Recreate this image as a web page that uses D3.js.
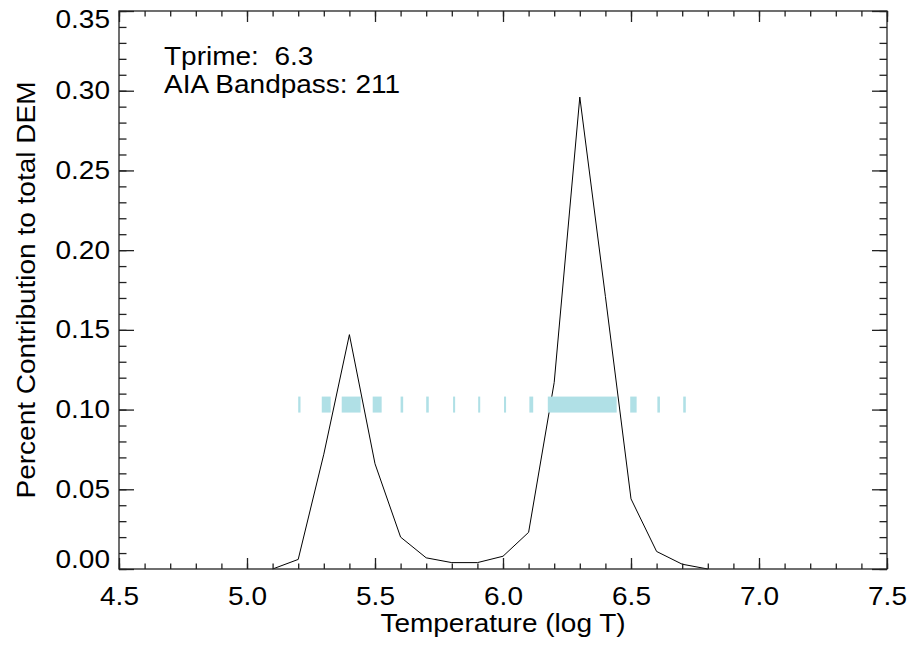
<!DOCTYPE html>
<html>
<head>
<meta charset="utf-8">
<script src="https://cdn.jsdelivr.net/npm/d3@7"></script>
<style>
  body { margin: 0; background: #fff; }
  svg text { font-family: "Liberation Sans", Arial, Helvetica, sans-serif; fill: #000; }
</style>
</head>
<body>
<div id="svg-area"></div>
<script>
// DEM contribution curve, one point per 0.1 in log T
const logT = [5.1, 5.2, 5.3, 5.4, 5.5, 5.6, 5.7, 5.8, 5.9, 6.0, 6.1, 6.2, 6.3, 6.4, 6.5, 6.6, 6.7, 6.8];
const contrib = [0.000, 0.006, 0.072, 0.147, 0.066, 0.020, 0.007, 0.004, 0.004, 0.008, 0.023, 0.117, 0.296, 0.171, 0.044, 0.011, 0.003, 0.000];

// cyan band segments (log T start / end), drawn at level 0.1
const bandStart = [5.200, 5.292, 5.370, 5.491, 5.600, 5.700, 5.805, 5.903, 6.004, 6.103, 6.175, 6.497, 6.603, 6.704];
const bandEnd   = [5.209, 5.327, 5.444, 5.526, 5.610, 5.710, 5.813, 5.911, 6.012, 6.118, 6.444, 6.522, 6.613, 6.714];
const bandLevel = 0.1;

const xTicks = [4.5, 5.0, 5.5, 6.0, 6.5, 7.0, 7.5];
const yTicks = [0.00, 0.05, 0.10, 0.15, 0.20, 0.25, 0.30, 0.35];
const notes = ["Tprime:  6.3", "AIA Bandpass: 211"];

const W = 912, H = 645;
const m = {left: 119, right: 25, top: 11, bottom: 76};
const iw = W - m.left - m.right, ih = H - m.top - m.bottom;
const FS = 25, SX = 1.12;

const x = d3.scaleLinear().domain([4.5, 7.5]).range([0, iw]);
const y = d3.scaleLinear().domain([0, 0.35]).range([ih, 0]);

const svg = d3.select('#svg-area').append('svg').attr('width', W).attr('height', H);
const g = svg.append('g').attr('transform', `translate(${m.left},${m.top})`);

// curve
const line = d3.line().x((d, i) => x(logT[i])).y(d => y(d));
g.append('path').datum(contrib).attr('d', line)
  .attr('fill', 'none').attr('stroke', '#000').attr('stroke-width', 1);

// band
g.append('g').selectAll('rect').data(bandStart).enter().append('rect')
  .attr('x', (d, i) => x(d))
  .attr('width', (d, i) => Math.max(2, x(bandEnd[i]) - x(d)))
  .attr('y', y(bandLevel) - 13)
  .attr('height', 16)
  .attr('fill', '#b0e0e6');

const xMinor = d3.range(45, 76).map(v => v / 10);
const yMinor = d3.range(0, 36).map(v => v / 100);
const fmtX = d3.format('.1f'), fmtY = d3.format('.2f');

function axisStyle(sel) {
  sel.select('.domain').remove();
  sel.selectAll('line').attr('stroke', '#222').attr('stroke-width', 1.3);
}

// bottom
g.append('g').attr('transform', `translate(0,${ih})`)
  .call(d3.axisBottom(x).tickValues(xMinor).tickFormat('').tickSize(-5.5).tickSizeOuter(0)).call(axisStyle);
const bx = g.append('g').attr('transform', `translate(0,${ih})`)
  .call(d3.axisBottom(x).tickValues(xTicks).tickFormat(fmtX).tickSize(-11).tickSizeOuter(0).tickPadding(18)).call(axisStyle);
bx.selectAll('text').attr('font-size', FS).attr('transform', `scale(${SX},1)`);
// top
g.append('g')
  .call(d3.axisTop(x).tickValues(xMinor).tickFormat('').tickSize(-5.5).tickSizeOuter(0)).call(axisStyle);
g.append('g')
  .call(d3.axisTop(x).tickValues(xTicks).tickFormat('').tickSize(-11).tickSizeOuter(0)).call(axisStyle);
// left
g.append('g')
  .call(d3.axisLeft(y).tickValues(yMinor).tickFormat('').tickSize(-7.5).tickSizeOuter(0)).call(axisStyle);
const ly = g.append('g')
  .call(d3.axisLeft(y).tickValues(yTicks).tickFormat(fmtY).tickSize(-15).tickSizeOuter(0).tickPadding(9)).call(axisStyle);
// end labels are nudged inside the axis range, as in the original plot
ly.selectAll('text').attr('font-size', FS).attr('x', -9 / SX)
  .attr('dy', d => d === 0 ? '-0.05em' : d === 0.35 ? '0.65em' : '0.32em')
  .attr('transform', `scale(${SX},1)`);
// right
g.append('g').attr('transform', `translate(${iw},0)`)
  .call(d3.axisRight(y).tickValues(yMinor).tickFormat('').tickSize(-7.5).tickSizeOuter(0)).call(axisStyle);
g.append('g').attr('transform', `translate(${iw},0)`)
  .call(d3.axisRight(y).tickValues(yTicks).tickFormat('').tickSize(-15).tickSizeOuter(0)).call(axisStyle);

// frame
g.append('rect').attr('width', iw).attr('height', ih)
  .attr('fill', 'none').attr('stroke', '#222').attr('stroke-width', 1.3);

// axis titles
svg.append('text').attr('transform', `translate(${m.left + iw / 2},${H - 13}) scale(${SX},1)`)
  .attr('text-anchor', 'middle').attr('font-size', FS).text('Temperature (log T)');
svg.append('text').attr('transform', `translate(35,${m.top + ih / 2}) rotate(-90) scale(${SX},1)`)
  .attr('text-anchor', 'middle').attr('font-size', FS).text('Percent Contribution to total DEM');

// annotations
svg.append('g').selectAll('text').data(notes).enter().append('text')
  .attr('transform', (d, i) => `translate(164,${65 + i * 28}) scale(${SX},1)`)
  .attr('font-size', FS).attr('xml:space', 'preserve').style('white-space', 'pre').text(d => d);
</script>
</body>
</html>
